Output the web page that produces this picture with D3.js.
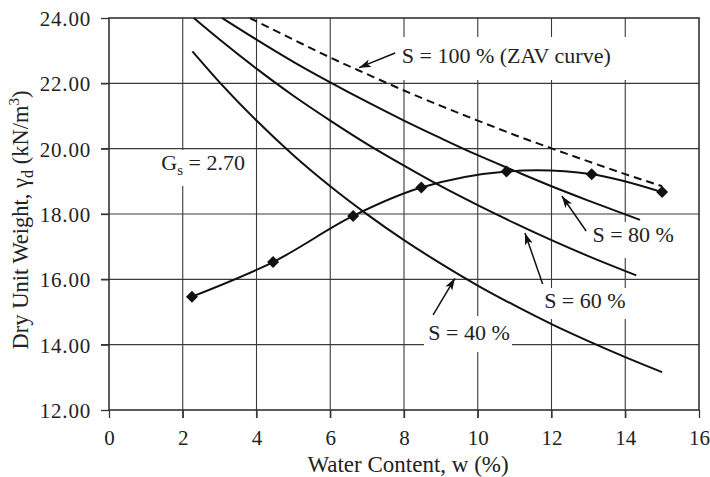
<!DOCTYPE html>
<html>
<head>
<meta charset="utf-8">
<script src="https://cdn.jsdelivr.net/npm/d3@7"></script>
<style>
  body { margin: 0; background: #fff; }
  svg { display: block; font-family: "Liberation Serif", "Times New Roman", serif; }
</style>
</head>
<body>
<script>
// x ticks and y ticks
var xTicks = [0, 2, 4, 6, 8, 10, 12, 14, 16];
var yTicks = [12, 14, 16, 18, 20, 22, 24];

// compaction test points (w %, dry unit weight kN/m3)
var testW = [2.25, 4.45, 6.62, 8.47, 10.78, 13.09, 15.0];
var testG = [15.47, 16.53, 17.94, 18.81, 19.30, 19.22, 18.67];

// saturation lines
var zavW = [3.82, 5, 6, 7, 8, 9, 10, 11, 12, 13, 14, 15];
var zavG = [24.00, 23.34, 22.79, 22.28, 21.78, 21.31, 20.86, 20.42, 20.01, 19.61, 19.22, 18.85];

var s80W = [3.07, 4, 5, 6, 7, 8, 9, 10, 11, 12, 13, 14.4];
var s80G = [24.00, 23.34, 22.66, 22.03, 21.43, 20.86, 20.32, 19.80, 19.32, 18.85, 18.41, 17.82];

var s60W = [2.3, 3, 4, 5, 6, 7, 8, 9, 10, 11, 12, 13, 14.3];
var s60G = [24.00, 23.34, 22.45, 21.62, 20.86, 20.14, 19.48, 18.85, 18.27, 17.72, 17.20, 16.71, 16.12];

var s40W = [2.26, 3, 4, 5, 6, 7, 8, 9, 10, 11, 12, 13, 14, 15];
var s40G = [22.98, 22.03, 20.86, 19.80, 18.85, 17.99, 17.20, 16.48, 15.81, 15.20, 14.63, 14.11, 13.62, 13.16];

var labelTexts = ["S = 100 % (ZAV curve)", "S = 80 %", "S = 60 %", "S = 40 %"];

function zip(a, b) { return a.map(function(d, i){ return {w: d, g: b[i]}; }); }

var W = 710, H = 477;
var pl = 109, pr = 699, pt = 18, pb = 410;

var svg = d3.select("body").append("svg")
    .attr("width", W)
    .attr("height", H);

var x = d3.scaleLinear().domain([0, 16]).range([pl, pr]);
var y = d3.scaleLinear().domain([12, 24]).range([pb, pt]);

var defs = svg.append("defs");
defs.append("marker")
    .attr("id", "arrow")
    .attr("viewBox", "0 0 12 8")
    .attr("refX", 12).attr("refY", 4)
    .attr("markerWidth", 12).attr("markerHeight", 8)
    .attr("markerUnits", "userSpaceOnUse")
    .attr("orient", "auto")
  .append("path")
    .attr("d", "M0,0 L12,4 L0,8 L3,4 Z")
    .attr("fill", "#111");

// grid
var grid = svg.append("g");
grid.selectAll("line.v")
    .data(xTicks.slice(1, -1))
    .enter().append("line")
    .attr("x1", function(d){ return x(d); })
    .attr("x2", function(d){ return x(d); })
    .attr("y1", pt).attr("y2", pb + 8)
    .attr("stroke", "#3a3a3a").attr("stroke-width", 1.1);
grid.selectAll("line.h")
    .data(yTicks.slice(1, -1))
    .enter().append("line")
    .attr("y1", function(d){ return y(d); })
    .attr("y2", function(d){ return y(d); })
    .attr("x1", pl - 8).attr("x2", pr)
    .attr("stroke", "#3a3a3a").attr("stroke-width", 1.1);

// axes
var xAxis = svg.append("g")
    .attr("transform", "translate(0," + pb + ")")
    .call(d3.axisBottom(x).tickValues(xTicks).tickSize(8).tickPadding(12).tickFormat(d3.format("d")));
var yAxis = svg.append("g")
    .attr("transform", "translate(" + pl + ",0)")
    .call(d3.axisLeft(y).tickValues(yTicks).tickSize(8).tickPadding(10).tickFormat(d3.format(".2f")));

[xAxis, yAxis].forEach(function(a){
  a.select(".domain").remove();
  a.selectAll("line").attr("stroke", "#333").attr("stroke-width", 1.3);
  a.selectAll("text")
    .attr("font-family", "Liberation Serif, serif")
    .attr("font-size", 21)
    .attr("fill", "#222");
});
yAxis.selectAll("text").attr("dy", "0.36em").attr("letter-spacing", 0.8);
xAxis.selectAll("text").attr("dy", "0.72em");

// plot frame
svg.append("rect")
    .attr("x", pl).attr("y", pt)
    .attr("width", pr - pl).attr("height", pb - pt)
    .attr("fill", "none")
    .attr("stroke", "#333").attr("stroke-width", 1.6);

// white label boxes that hide the grid
var boxes = [
  {x0: 395, x1: 682, y0: 37, y1: 80},
  {x0: 585, x1: 682, y0: 222, y1: 258},
  {x0: 538, x1: 632, y0: 288, y1: 319},
  {x0: 424, x1: 512, y0: 316, y1: 352},
  {x0: 157, x1: 255, y0: 150, y1: 186}
];
svg.selectAll("rect.box")
    .data(boxes)
    .enter().append("rect")
    .attr("x", function(d){ return d.x0; })
    .attr("y", function(d){ return d.y0; })
    .attr("width", function(d){ return d.x1 - d.x0; })
    .attr("height", function(d){ return d.y1 - d.y0; })
    .attr("fill", "#fff");

// saturation curves
var line = d3.line()
    .x(function(d){ return x(d.w); })
    .y(function(d){ return y(d.g); })
    .curve(d3.curveMonotoneX);

[zip(s80W, s80G), zip(s60W, s60G), zip(s40W, s40G)].forEach(function(s){
  svg.append("path")
      .attr("d", line(s))
      .attr("fill", "none")
      .attr("stroke", "#111")
      .attr("stroke-width", 2);
});

svg.append("path")
    .attr("d", line(zip(zavW, zavG)))
    .attr("fill", "none")
    .attr("stroke", "#111")
    .attr("stroke-width", 2)
    .attr("stroke-dasharray", "8,5");

// compaction curve
var testLine = d3.line()
    .x(function(d){ return x(d.w); })
    .y(function(d){ return y(d.g); })
    .curve(d3.curveCatmullRom);
var test = zip(testW, testG);
svg.append("path")
    .attr("d", testLine(test))
    .attr("fill", "none")
    .attr("stroke", "#111")
    .attr("stroke-width", 2);

svg.selectAll("path.pt")
    .data(test)
    .enter().append("path")
    .attr("d", d3.symbol().type(d3.symbolSquare).size(72))
    .attr("transform", function(d){ return "translate(" + x(d.w) + "," + y(d.g) + ") rotate(45)"; })
    .attr("fill", "#111");

// arrows: from label to curve (data coords)
var arrows = [
  {w0: 7.76, g0: 22.93, w1: 6.78, g1: 22.48},
  {w0: 12.94, g0: 17.48, w1: 12.28, g1: 18.55},
  {w0: 11.76, g0: 15.86, w1: 11.28, g1: 17.42},
  {w0: 8.79, g0: 14.91, w1: 9.38, g1: 16.03}
];
svg.selectAll("line.arrow")
    .data(arrows)
    .enter().append("line")
    .attr("x1", function(d){ return x(d.w0); })
    .attr("y1", function(d){ return y(d.g0); })
    .attr("x2", function(d){ return x(d.w1); })
    .attr("y2", function(d){ return y(d.g1); })
    .attr("stroke", "#111")
    .attr("stroke-width", 1.5)
    .attr("marker-end", "url(#arrow)");

// labels
var labelPos = [
  {w: 7.94, g: 22.61},
  {w: 13.11, g: 17.15},
  {w: 11.80, g: 15.13},
  {w: 8.66, g: 14.15}
];
svg.selectAll("text.lab")
    .data(labelTexts)
    .enter().append("text")
    .attr("x", function(d, i){ return x(labelPos[i].w); })
    .attr("y", function(d, i){ return y(labelPos[i].g); })
    .attr("font-size", 22)
    .attr("fill", "#222")
    .text(function(d){ return d; });

var gs = svg.append("text")
    .attr("x", x(1.42)).attr("y", y(19.35))
    .attr("font-size", 22)
    .attr("fill", "#222");
gs.append("tspan").text("G");
gs.append("tspan").attr("font-size", 15).attr("dy", 5).text("s");
gs.append("tspan").attr("dy", -5).text(" = 2.70");

// axis titles
svg.append("text")
    .attr("x", (pl + pr) / 2 + 4)
    .attr("y", 472)
    .attr("text-anchor", "middle")
    .attr("font-size", 23)
    .attr("fill", "#222")
    .text("Water Content, w (%)");

var yt = svg.append("text")
    .attr("transform", "translate(28," + ((pt + pb) / 2 + 6) + ") rotate(-90)")
    .attr("text-anchor", "middle")
    .attr("font-size", 22.5)
    .attr("fill", "#222");
yt.append("tspan").text("Dry Unit Weight, \u03b3");
yt.append("tspan").attr("font-size", 16).attr("dy", 5).text("d");
yt.append("tspan").attr("dy", -5).text(" (kN/m");
yt.append("tspan").attr("font-size", 15).attr("dy", -9).text("3");
yt.append("tspan").attr("dy", 9).text(")");
</script>
</body>
</html>
